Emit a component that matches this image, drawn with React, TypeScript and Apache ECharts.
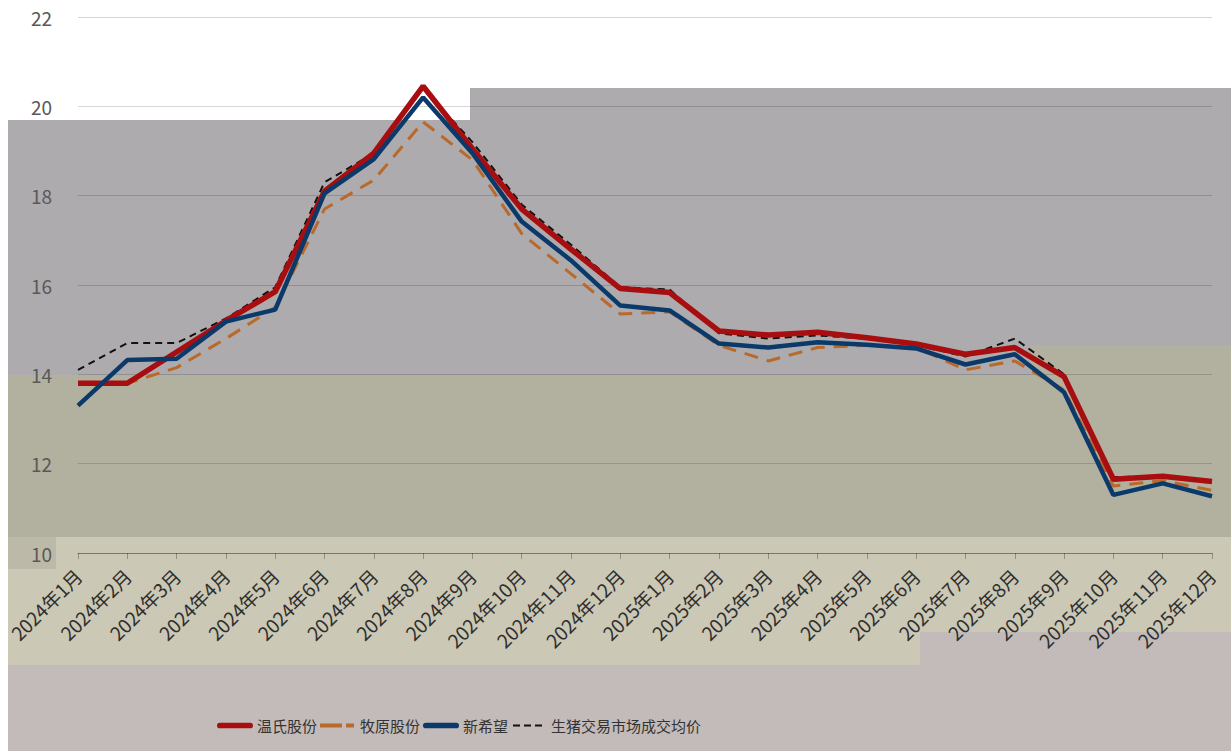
import React, { useEffect, useRef } from "react";
import * as echarts from "echarts";

const categories = [
  "2024年1月", "2024年2月", "2024年3月", "2024年4月", "2024年5月", "2024年6月",
  "2024年7月", "2024年8月", "2024年9月", "2024年10月", "2024年11月", "2024年12月",
  "2025年1月", "2025年2月", "2025年3月", "2025年4月", "2025年5月", "2025年6月",
  "2025年7月", "2025年8月", "2025年9月", "2025年10月", "2025年11月", "2025年12月",
];

const wens = [13.8, 13.8, 14.5, 15.2, 15.85, 18.1, 18.95, 20.45, 19.05, 17.7, 16.8, 15.92, 15.83, 14.97, 14.88, 14.94, 14.82, 14.68, 14.45, 14.6, 13.95, 11.65, 11.72, 11.6];
const muyuan = [13.8, 13.8, 14.15, 14.8, 15.5, 17.7, 18.35, 19.65, 18.8, 17.15, 16.25, 15.35, 15.4, 14.65, 14.3, 14.6, 14.65, 14.6, 14.1, 14.3, 13.65, 11.5, 11.62, 11.4];
const xinxiwang = [13.3, 14.32, 14.35, 15.18, 15.45, 18.05, 18.82, 20.2, 18.95, 17.42, 16.55, 15.54, 15.43, 14.69, 14.6, 14.72, 14.66, 14.58, 14.22, 14.45, 13.6, 11.3, 11.56, 11.27];
const market = [14.1, 14.7, 14.7, 15.25, 15.95, 18.3, 18.95, 20.4, 19.2, 17.8, 16.9, 15.95, 15.9, 14.92, 14.8, 14.87, 14.8, 14.65, 14.4, 14.8, 14.0, 11.7, 11.72, 11.6];

const seriesNames = ["温氏股份", "牧原股份", "新希望", "生猪交易市场成交均价"];
const yTicks = { min: 10, max: 22, interval: 2 };

export default function App() {
  const ref = useRef<HTMLDivElement>(null);
  useEffect(() => {
    if (!ref.current) return;
    const chart = echarts.init(ref.current, undefined, { renderer: "svg" });
    const font = "'Noto Sans CJK SC', 'Noto Sans', sans-serif";
    const bg = (x: number, y: number, w: number, h: number, fill: string) => ({
      type: "rect",
      silent: true,
      z: -100,
      shape: { x, y, width: w, height: h },
      style: { fill },
    });
    const solidIcon = "path://M2,0H34A2,2 0 0 1 34,6H2A2,2 0 0 1 2,0Z";
    const brownDashIcon = "path://M0,1H22V5H0Z M26,1H34V5H26Z M0,0H0.01V0.01H0Z M36,6H35.99V5.99H36Z";
    const blackDashIcon = "path://M2,2H9V4H2Z M13,2H20V4H13Z M24,2H31V4H24Z M0,0H0.01V0.01H0Z M36,6H35.99V5.99H36Z";
    chart.setOption({
      animation: false,
      backgroundColor: "#ffffff",
      textStyle: { fontFamily: font },
      graphic: [
        bg(8, 120, 1223, 255, "#adabae"),
        bg(470, 88, 761, 32, "#adabae"),
        bg(8, 375, 1223, 162, "#b2b19f"),
        bg(1030, 345, 201, 30, "#b2b19f"),
        bg(8, 537, 1223, 128, "#cbc8b5"),
        bg(8, 537, 48, 32, "#bdb9a8"),
        bg(8, 665, 1223, 86, "#c3bbb9"),
        bg(920, 632, 311, 33, "#c3bbb9"),
      ],
      grid: { left: 78, right: 19, top: 17, bottom: 198, containLabel: false },
      legend: {
        left: 212,
        top: 713,
        itemWidth: 36,
        itemHeight: 6,
        itemGap: 3,
        textStyle: { fontSize: 15, color: "#333333", fontFamily: font, padding: [0, 0, 0, -1] },
        data: [
          { name: seriesNames[0], icon: solidIcon },
          { name: seriesNames[1], icon: brownDashIcon },
          { name: seriesNames[2], icon: solidIcon },
          { name: seriesNames[3], icon: blackDashIcon },
        ],
      },
      xAxis: {
        type: "category",
        data: categories,
        boundaryGap: false,
        axisLine: { lineStyle: { color: "rgba(0,0,0,0.28)", width: 1 } },
        axisTick: { show: true, length: 6, lineStyle: { color: "rgba(0,0,0,0.28)" } },
        axisLabel: {
          rotate: 45,
          interval: 0,
          margin: 19,
          fontSize: 19,
          color: "#2f2f2f",
          fontFamily: font,
        },
      },
      yAxis: {
        type: "value",
        min: yTicks.min,
        max: yTicks.max,
        interval: yTicks.interval,
        axisLine: { show: false },
        axisTick: { show: false },
        axisLabel: { fontSize: 19, color: "#595959", margin: 26, fontFamily: font },
        splitLine: { lineStyle: { color: "rgba(0,0,0,0.16)", width: 1 } },
      },
      series: [
        {
          name: seriesNames[0],
          type: "line",
          data: wens,
          symbol: "none",
          z: 4,
          lineStyle: { color: "#a80d10", width: 5.5 },
          itemStyle: { color: "#a80d10" },
        },
        {
          name: seriesNames[1],
          type: "line",
          data: muyuan,
          symbol: "none",
          z: 3,
          lineStyle: { color: "#b9692a", width: 3, type: [14, 9] },
          itemStyle: { color: "#b9692a" },
        },
        {
          name: seriesNames[2],
          type: "line",
          data: xinxiwang,
          symbol: "none",
          z: 5,
          lineStyle: { color: "#0b3a6a", width: 4.5 },
          itemStyle: { color: "#0b3a6a" },
        },
        {
          name: seriesNames[3],
          type: "line",
          data: market,
          symbol: "none",
          z: 2,
          lineStyle: { color: "#111111", width: 2, type: [7, 5] },
          itemStyle: { color: "#111111" },
        },
      ],
    });
    return () => chart.dispose();
  }, []);
  return (
    <div
      ref={ref}
      style={{ position: "fixed", left: 0, top: 0, width: 1231, height: 751 }}
    />
  );
}
